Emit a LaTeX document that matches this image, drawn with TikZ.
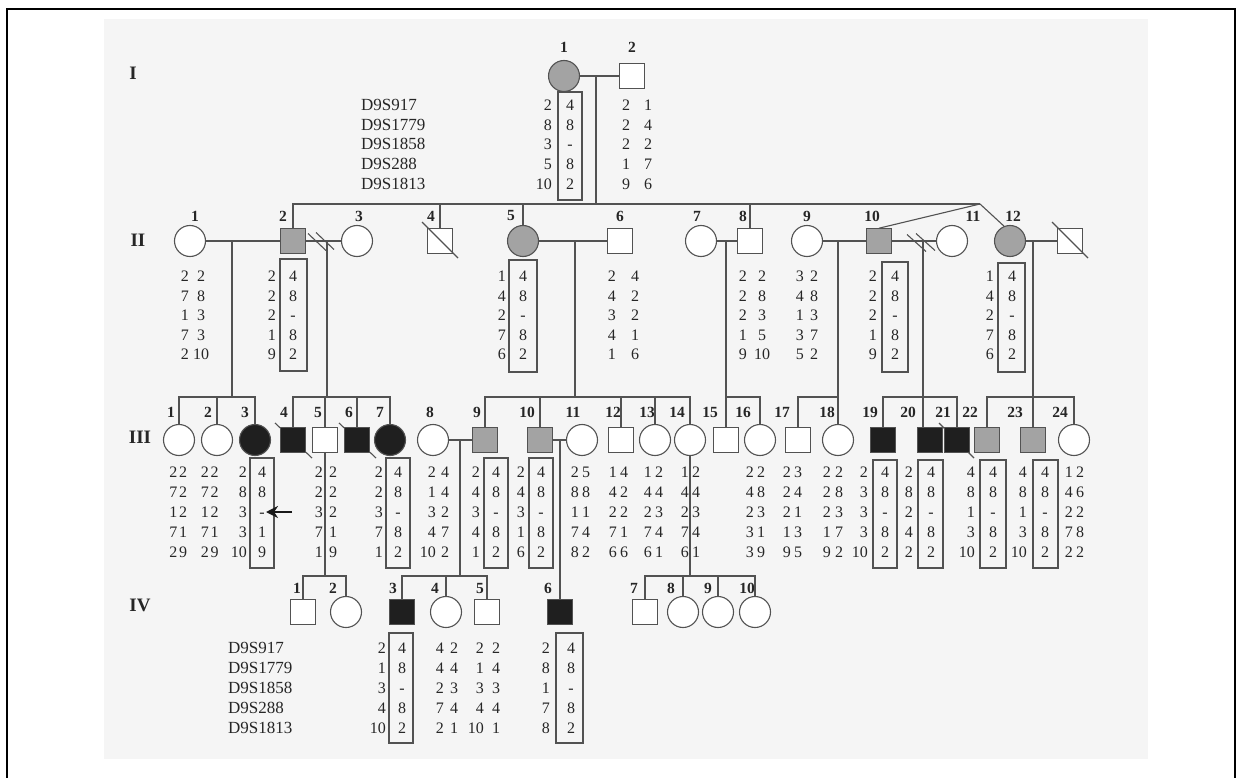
\documentclass[tikz,border=0pt]{standalone}
\usepackage{fontspec}
\setmainfont{Liberation Serif}
\usetikzlibrary{arrows.meta}
\newcommand\hcol[6]{%
  \foreach \v [count=\i] in {#6} {\node[#2] (#1-\i) at (#3, {#4+(\i-1)*#5}) {\v};}}
\begin{document}
\begin{tikzpicture}[x=1pt,y=-1pt,
  ln/.style={draw=black!68, line width=1.1pt},
  fem/.style={circle, draw=black!68, line width=1.1pt, minimum size=31pt, inner sep=0pt, fill=white},
  mal/.style={rectangle, draw=black!68, line width=1.1pt, minimum size=24.5pt, inner sep=0pt, fill=white},
  gry/.style={fill=black!36},
  blk/.style={fill=black!88},
  lab/.style={font=\fontsize{15.5}{15.5}\selectfont\bfseries, inner sep=0pt, text=black!85},
  gen/.style={font=\fontsize{19}{19}\selectfont\bfseries, inner sep=0pt, text=black!85},
  mk/.style={font=\fontsize{16}{16}\selectfont, inner sep=0pt, anchor=base, text=black!85},
  mkl/.style={mk, anchor=base east},
  loc/.style={font=\fontsize{17}{17}\selectfont, inner sep=0pt, anchor=base west, text=black!85},
  hbox/.style={draw=black!68, line width=1.1pt},
  arr/.style={draw=black!90, line width=2.6pt, -{Stealth[length=12pt,width=12pt]}},
]
\useasboundingbox (0,0) rectangle (1242,778);
\fill[white] (0,0) rectangle (1242,778);
\fill[black!4] (104,19) rectangle (1148,759);
\draw[line width=2pt] (7,778) -- (7,9) -- (1235,9) -- (1235,778);

% generation labels
\node[gen] (gI) at (133,73) {I};
\node[gen] (gII) at (138,240) {II};
\node[gen] (gIII) at (140,437) {III};
\node[gen] (gIV) at (140,605) {IV};

% helper coordinates
\coordinate (sib2) at (0,204);
\coordinate (sib3) at (0,397);
\coordinate (sib4) at (0,576);
\coordinate (tw) at (980,204);
\coordinate (mI) at (596,76);
\coordinate (m12) at (232,241);
\coordinate (m23) at (327,241);
\coordinate (m56) at (575,241);
\coordinate (m78) at (726,241);
\coordinate (m910) at (838,241);
\coordinate (m1011) at (923,241);
\coordinate (m1213) at (1033,241);
\coordinate (m89) at (460,440);
\coordinate (mx1011) at (560,440);
\coordinate (d23) at (321,241.5);
\coordinate (d1011) at (921,242.5);

% slashes behind black squares
\draw[ln] (293,440) ++(-18,-17) -- ++(37,35);
\draw[ln] (357,440) ++(-18,-17) -- ++(37,35);
\draw[ln] (957,440) ++(-18,-17) -- ++(35,35);

% ---------------- Generation I
\node[fem,gry] (p1-1) at (564,76) {};
\node[mal] (p1-2) at (632,76) {};
\node[lab] (l1-1) at (564,47) {1};
\node[lab] (l1-2) at (632,47) {2};

% ---------------- Generation II
\node[fem] (p2-1) at (190,241) {};
\node[mal,gry] (p2-2) at (293,241) {};
\node[fem] (p2-3) at (357,241) {};
\node[mal] (p2-4) at (440,241) {};
\node[fem,gry] (p2-5) at (523,241) {};
\node[mal] (p2-6) at (620,241) {};
\node[fem] (p2-7) at (701,241) {};
\node[mal] (p2-8) at (750,241) {};
\node[fem] (p2-9) at (807,241) {};
\node[mal,gry] (p2-10) at (879,241) {};
\node[fem] (p2-11) at (952,241) {};
\node[fem,gry] (p2-12) at (1010,241) {};
\node[mal] (p2-13) at (1070,241) {};
\draw[ln] (p2-4.center) ++(-18,-19) -- ++(36,36);
\draw[ln] (p2-13.center) ++(-18,-19) -- ++(36,36);
\foreach \n/\x in {1/195,2/283,3/359,4/431,5/511,6/620,7/697,8/743,9/807,10/872,11/973,12/1013}
  \node[lab] (l2-\n) at (\x,216) {\n};

% ---------------- Generation III
\node[fem] (p3-1) at (179,440) {};
\node[fem] (p3-2) at (217,440) {};
\node[fem,blk] (p3-3) at (255,440) {};
\node[mal,blk] (p3-4) at (293,440) {};
\node[mal] (p3-5) at (325,440) {};
\node[mal,blk] (p3-6) at (357,440) {};
\node[fem,blk] (p3-7) at (390,440) {};
\node[fem] (p3-8) at (433,440) {};
\node[mal,gry] (p3-9) at (485,440) {};
\node[mal,gry] (p3-10) at (540,440) {};
\node[fem] (p3-11) at (582,440) {};
\node[mal] (p3-12) at (621,440) {};
\node[fem] (p3-13) at (655,440) {};
\node[fem] (p3-14) at (690,440) {};
\node[mal] (p3-15) at (726,440) {};
\node[fem] (p3-16) at (760,440) {};
\node[mal] (p3-17) at (798,440) {};
\node[fem] (p3-18) at (838,440) {};
\node[mal,blk] (p3-19) at (883,440) {};
\node[mal,blk] (p3-20) at (930,440) {};
\node[mal,blk] (p3-21) at (957,440) {};
\node[mal,gry] (p3-22) at (987,440) {};
\node[mal,gry] (p3-23) at (1033,440) {};
\node[fem] (p3-24) at (1074,440) {};
\foreach \n/\x in {1/171,2/208,3/245,4/284,5/318,6/349,7/380,8/430,9/477,10/527,11/573,12/613,13/647,14/677,15/710,16/743,17/782,18/827,19/870,20/908,21/943,22/970,23/1015,24/1060}
  \node[lab] (l3-\n) at (\x,412) {\n};

% ---------------- Generation IV
\node[mal] (p4-1) at (303,612) {};
\node[fem] (p4-2) at (346,612) {};
\node[mal,blk] (p4-3) at (402,612) {};
\node[fem] (p4-4) at (446,612) {};
\node[mal] (p4-5) at (487,612) {};
\node[mal,blk] (p4-6) at (560,612) {};
\node[mal] (p4-7) at (645,612) {};
\node[fem] (p4-8) at (683,612) {};
\node[fem] (p4-9) at (718,612) {};
\node[fem] (p4-10) at (755,612) {};
\foreach \n/\x in {1/297,2/333,3/393,4/435,5/480,6/548,7/634,8/671,9/708,10/747}
  \node[lab] (l4-\n) at (\x,588) {\n};

% ---------------- connectors
\draw[ln] (p1-1) -- (p1-2);
\draw[ln] (mI) -- (mI |- sib2);
\draw[ln] (p2-2.north) -- (p2-2.north |- sib2) -- (tw);
\draw[ln] (p2-4.north) -- (p2-4.north |- sib2);
\draw[ln] (p2-5.north) -- (p2-5.north |- sib2);
\draw[ln] (p2-8.north) -- (p2-8.north |- sib2);
\draw[ln] (tw) -- (p2-10.north);
\draw[ln] (tw) -- (p2-12.112);

\draw[ln] (p2-1) -- (p2-2);
\draw[ln] (p2-2) -- (p2-3);
\draw[ln] (p2-5) -- (p2-6);
\draw[ln] (p2-7) -- (p2-8);
\draw[ln] (p2-9) -- (p2-10);
\draw[ln] (p2-10) -- (p2-11);
\draw[ln] (p2-12) -- (p2-13);
\draw[ln] (d23) ++(-13,-8) -- ++(18,17);
\draw[ln] (d23) ++(-5,-9) -- ++(18,17);
\draw[ln] (d1011) ++(-14,-8) -- ++(19,17);
\draw[ln] (d1011) ++(-5,-9) -- ++(19,17);

\draw[ln] (m12) -- (m12 |- sib3);
\draw[ln] (p3-1.north) -- (p3-1.north |- sib3) -- (p3-3.north |- sib3) -- (p3-3.north);
\draw[ln] (p3-2.north) -- (p3-2.north |- sib3);
\draw[ln] (m23) -- (m23 |- sib3);
\draw[ln] (p3-4.north) -- (p3-4.north |- sib3) -- (p3-7.north |- sib3) -- (p3-7.north);
\draw[ln] (p3-5.north) -- (p3-5.north |- sib3);
\draw[ln] (p3-6.north) -- (p3-6.north |- sib3);
\draw[ln] (m56) -- (m56 |- sib3);
\draw[ln] (p3-9.north) -- (p3-9.north |- sib3) -- (p3-14.north |- sib3) -- (p3-14.north);
\draw[ln] (p3-10.north) -- (p3-10.north |- sib3);
\draw[ln] (p3-12.north) -- (p3-12.north |- sib3);
\draw[ln] (p3-13.north) -- (p3-13.north |- sib3);
\draw[ln] (m78) -- (m78 |- sib3);
\draw[ln] (p3-15.north) -- (p3-15.north |- sib3) -- (p3-16.north |- sib3) -- (p3-16.north);
\draw[ln] (m910) -- (m910 |- sib3);
\draw[ln] (p3-17.north) -- (p3-17.north |- sib3) -- (p3-18.north |- sib3) -- (p3-18.north);
\draw[ln] (m1011) -- (m1011 |- p3-20.north);
\draw[ln] (p3-19.north) -- (p3-19.north |- sib3) -- (p3-21.north |- sib3) -- (p3-21.north);
\draw[ln] (m1213) -- (p3-23.north);
\draw[ln] (p3-22.north) -- (p3-22.north |- sib3) -- (p3-24.north |- sib3) -- (p3-24.north);

\draw[ln] (p3-8) -- (p3-9);
\draw[ln] (p3-10) -- (p3-11);
\draw[ln] (m89) -- (m89 |- sib4);
\draw[ln] (p4-3.north) -- (p4-3.north |- sib4) -- (p4-5.north |- sib4) -- (p4-5.north);
\draw[ln] (p4-4.north) -- (p4-4.north |- sib4);
\draw[ln] (p3-5.south) -- (p3-5.south |- sib4);
\draw[ln] (p4-1.north) -- (p4-1.north |- sib4) -- (p4-2.north |- sib4) -- (p4-2.north);
\draw[ln] (mx1011) -- (p4-6.north);
\draw[ln] (p3-14.south) -- (p3-14.south |- sib4);
\draw[ln] (p4-7.north) -- (p4-7.north |- sib4) -- (p4-10.north |- sib4) -- (p4-10.north);
\draw[ln] (p4-8.north) -- (p4-8.north |- sib4);
\draw[ln] (p4-9.north) -- (p4-9.north |- sib4);

% ---------------- haplotype boxes
\draw[hbox] (558,92) rectangle (582,200);
\draw[hbox] (280,259) rectangle (307,371);
\draw[hbox] (509,260) rectangle (537,372);
\draw[hbox] (882,262) rectangle (908,372);
\draw[hbox] (998,263) rectangle (1025,372);
\draw[hbox] (250,458) rectangle (274,568);
\draw[hbox] (386,458) rectangle (410,568);
\draw[hbox] (484,458) rectangle (508,568);
\draw[hbox] (529,458) rectangle (553,568);
\draw[hbox] (873,460) rectangle (897,568);
\draw[hbox] (918,460) rectangle (943,568);
\draw[hbox] (980,460) rectangle (1006,568);
\draw[hbox] (1033,460) rectangle (1058,568);
\draw[hbox] (389,633) rectangle (413,743);
\draw[hbox] (556,633) rectangle (583,743);

% ---------------- markers generation I
\hcol{kIa}{loc}{361}{110.5}{19.7}{D9S917,D9S1779,D9S1858,D9S288,D9S1813}
\hcol{k11l}{mkl}{552}{110.5}{19.7}{2,8,3,5,10}
\hcol{k11r}{mk}{570}{110.5}{19.7}{4,8,-,8,2}
\hcol{k12l}{mk}{626}{110.5}{19.7}{2,2,2,1,9}
\hcol{k12r}{mk}{648}{110.5}{19.7}{1,4,2,7,6}

% ---------------- markers generation II
\hcol{k21l}{mkl}{189}{281.5}{19.6}{2,7,1,7,2}
\hcol{k21r}{mk}{201}{281.5}{19.6}{2,8,3,3,10}
\hcol{k22l}{mkl}{276}{281.5}{19.6}{2,2,2,1,9}
\hcol{k22r}{mk}{293}{281.5}{19.6}{4,8,-,8,2}
\hcol{k25l}{mkl}{506}{281.5}{19.6}{1,4,2,7,6}
\hcol{k25r}{mk}{523}{281.5}{19.6}{4,8,-,8,2}
\hcol{k26l}{mkl}{616}{281.5}{19.6}{2,4,3,4,1}
\hcol{k26r}{mk}{635}{281.5}{19.6}{4,2,2,1,6}
\hcol{k28l}{mkl}{747}{281.5}{19.6}{2,2,2,1,9}
\hcol{k28r}{mk}{762}{281.5}{19.6}{2,8,3,5,10}
\hcol{k29l}{mkl}{804}{281.5}{19.6}{3,4,1,3,5}
\hcol{k29r}{mk}{814}{281.5}{19.6}{2,8,3,7,2}
\hcol{k210l}{mkl}{877}{281.5}{19.6}{2,2,2,1,9}
\hcol{k210r}{mk}{895}{281.5}{19.6}{4,8,-,8,2}
\hcol{k212l}{mkl}{994}{281.5}{19.6}{1,4,2,7,6}
\hcol{k212r}{mk}{1012}{281.5}{19.6}{4,8,-,8,2}

% ---------------- markers generation III
\hcol{k31l}{mkl}{177.5}{477.5}{20}{2,7,1,7,2}
\hcol{k31r}{mk}{183}{477.5}{20}{2,2,2,1,9}
\hcol{k32l}{mkl}{209}{477.5}{20}{2,7,1,7,2}
\hcol{k32r}{mk}{214.5}{477.5}{20}{2,2,2,1,9}
\hcol{k33l}{mkl}{247}{477.5}{20}{2,8,3,3,10}
\hcol{k33r}{mk}{262}{477.5}{20}{4,8,-,1,9}
\hcol{k35l}{mkl}{323}{477.5}{20}{2,2,3,7,1}
\hcol{k35r}{mk}{333}{477.5}{20}{2,2,2,1,9}
\hcol{k37l}{mkl}{383}{477.5}{20}{2,2,3,7,1}
\hcol{k37r}{mk}{398}{477.5}{20}{4,8,-,8,2}
\hcol{k38l}{mkl}{436}{477.5}{20}{2,1,3,4,10}
\hcol{k38r}{mk}{445}{477.5}{20}{4,4,2,7,2}
\hcol{k39l}{mkl}{480}{477.5}{20}{2,4,3,4,1}
\hcol{k39r}{mk}{496}{477.5}{20}{4,8,-,8,2}
\hcol{k310l}{mkl}{525}{477.5}{20}{2,4,3,1,6}
\hcol{k310r}{mk}{541}{477.5}{20}{4,8,-,8,2}
\hcol{k311l}{mkl}{579}{477.5}{20}{2,8,1,7,8}
\hcol{k311r}{mk}{586}{477.5}{20}{5,8,1,4,2}
\hcol{k312l}{mkl}{617}{477.5}{20}{1,4,2,7,6}
\hcol{k312r}{mk}{624}{477.5}{20}{4,2,2,1,6}
\hcol{k313l}{mkl}{652}{477.5}{20}{1,4,2,7,6}
\hcol{k313r}{mk}{659}{477.5}{20}{2,4,3,4,1}
\hcol{k314l}{mkl}{689}{477.5}{20}{1,4,2,7,6}
\hcol{k314r}{mk}{696}{477.5}{20}{2,4,3,4,1}
\hcol{k316l}{mkl}{754}{477.5}{20}{2,4,2,3,3}
\hcol{k316r}{mk}{761}{477.5}{20}{2,8,3,1,9}
\hcol{k317l}{mkl}{791}{477.5}{20}{2,2,2,1,9}
\hcol{k317r}{mk}{798}{477.5}{20}{3,4,1,3,5}
\hcol{k318l}{mkl}{831}{477.5}{20}{2,2,2,1,9}
\hcol{k318r}{mk}{839}{477.5}{20}{2,8,3,7,2}
\hcol{k319l}{mkl}{868}{477.5}{20}{2,3,3,3,10}
\hcol{k319r}{mk}{885}{477.5}{20}{4,8,-,8,2}
\hcol{k320l}{mkl}{913}{477.5}{20}{2,8,2,4,2}
\hcol{k320r}{mk}{931}{477.5}{20}{4,8,-,8,2}
\hcol{k322l}{mkl}{975}{477.5}{20}{4,8,1,3,10}
\hcol{k322r}{mk}{993}{477.5}{20}{4,8,-,8,2}
\hcol{k323l}{mkl}{1027}{477.5}{20}{4,8,1,3,10}
\hcol{k323r}{mk}{1045}{477.5}{20}{4,8,-,8,2}
\hcol{k324l}{mkl}{1073}{477.5}{20}{1,4,2,7,2}
\hcol{k324r}{mk}{1080}{477.5}{20}{2,6,2,8,2}

% arrow to III-3
\coordinate (ar1) at (292,512);
\coordinate (ar2) at (266,512);
\draw[arr] (ar1) -- (ar2);

% ---------------- markers generation IV
\hcol{kIVa}{loc}{228}{653.5}{20}{D9S917,D9S1779,D9S1858,D9S288,D9S1813}
\hcol{k43l}{mkl}{386}{653.5}{20}{2,1,3,4,10}
\hcol{k43r}{mk}{402}{653.5}{20}{4,8,-,8,2}
\hcol{k44l}{mkl}{444}{653.5}{20}{4,4,2,7,2}
\hcol{k44r}{mk}{454}{653.5}{20}{2,4,3,4,1}
\hcol{k45l}{mkl}{484}{653.5}{20}{2,1,3,4,10}
\hcol{k45r}{mk}{496}{653.5}{20}{2,4,3,4,1}
\hcol{k46l}{mkl}{550}{653.5}{20}{2,8,1,7,8}
\hcol{k46r}{mk}{571}{653.5}{20}{4,8,-,8,2}
\end{tikzpicture}
\end{document}
